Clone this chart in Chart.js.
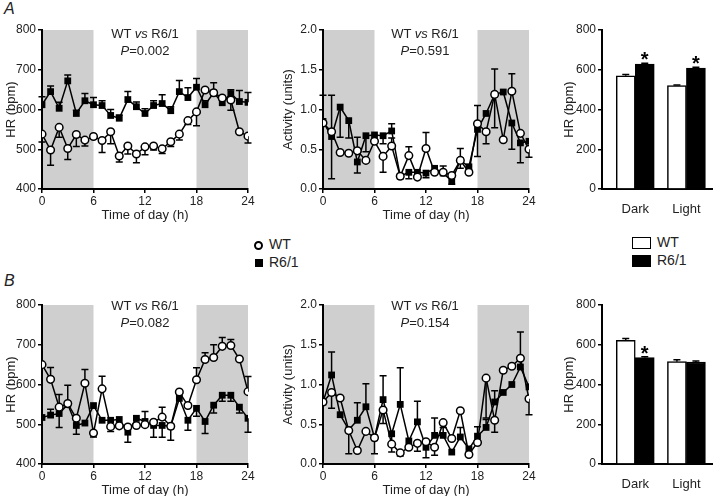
<!DOCTYPE html>
<html>
<head>
<meta charset="utf-8">
<script src="https://cdn.jsdelivr.net/npm/chart.js@4"></script>
<style>
  body { margin: 0; width: 720px; height: 496px; overflow: hidden; background: #fff; position: relative;
         font-family: 'Liberation Sans', Arial, sans-serif; color: #222; }
  canvas { position: absolute; }
  .note { position: absolute; width: 110px; font-size: 13px; line-height: 17px; text-align: center; }
  .tag { position: absolute; font-size: 16px; font-style: italic; }
  .leg { position: absolute; font-size: 14px; line-height: 18px; }
  .leg span { display: inline-block; vertical-align: middle; margin-right: 6px; box-sizing: border-box; }
</style>
</head>
<body>
<div class="tag" style="left:4px;top:0px">A</div>
<div class="tag" style="left:4px;top:272px">B</div>

<canvas id="hrA" width="262" height="230" style="left:0;top:0"></canvas>
<canvas id="actA" width="273" height="230" style="left:270px;top:0"></canvas>
<canvas id="barA" width="165" height="230" style="left:555px;top:0"></canvas>
<canvas id="hrB" width="262" height="230" style="left:0;top:275px"></canvas>
<canvas id="actB" width="273" height="230" style="left:270px;top:275px"></canvas>
<canvas id="barB" width="165" height="230" style="left:555px;top:275px"></canvas>

<div class="note" style="left:90px;top:25px">WT <i>vs</i> R6/1<br><i>P</i>=0.002</div>
<div class="note" style="left:370px;top:25px">WT <i>vs</i> R6/1<br><i>P</i>=0.591</div>
<div class="note" style="left:90px;top:297px">WT <i>vs</i> R6/1<br><i>P</i>=0.082</div>
<div class="note" style="left:370px;top:297px">WT <i>vs</i> R6/1<br><i>P</i>=0.154</div>

<div class="leg" style="left:254px;top:235px">
  <div><span style="width:9px;height:9px;border:2px solid #000;border-radius:50%"></span>WT</div>
  <div><span style="width:8px;height:8px;background:#000;margin-left:1px"></span>R6/1</div>
</div>
<div class="leg" style="left:632px;top:233px">
  <div><span style="width:19px;height:12px;border:1.5px solid #000"></span>WT</div>
  <div><span style="width:19px;height:12px;background:#000"></span>R6/1</div>
</div>

<script>
// time axis
const hours = [0, 1, 2, 3, 4, 5, 6, 7, 8, 9, 10, 11, 12, 13, 14, 15, 16, 17, 18, 19, 20, 21, 22, 23, 24];
const darkPeriods = [[0, 6], [18, 24]];
const groups = ['WT', 'R6/1'];
const barCats = ['Dark', 'Light'];

// A: heart rate (bpm), error bars signed (+ up, - down)
const hrA_wt = [538, 498, 555, 502, 537, 523, 532, 522, 544, 483, 508, 488, 506, 508, 501, 519, 538, 572, 594, 649, 642, 629, 624, 544, 533];
const hrA_wtErr = [-20, -38, -25, -28, -30, -15, -5, -30, -30, -15, -20, -22, -20, -10, -12, -12, -15, -10, -35, -5, -5, -5, -26, 0, -17];
const hrA_r6 = [612, 645, 603, 672, 590, 622, 612, 610, 585, 578, 625, 607, 590, 610, 615, 597, 645, 630, 656, 612, 642, 617, 640, 620, 618];
const hrA_r6Err = [20, 14, 15, 15, 8, 18, 18, 12, 15, 8, 20, 12, 12, 12, 22, 10, 28, 25, 22, 10, 25, 15, 10, 28, 25];

// A: activity (units)
const actA_wt = [0.83, 0.72, 0.46, 0.45, 0.48, 0.36, 0.60, 0.41, 0.54, 0.16, 0.42, 0.15, 0.51, 0.21, 0.21, 0.17, 0.36, 0.21, 0.82, 0.72, 1.19, 0.62, 1.23, 0.70, 0.50];
const actA_wtErr = [0, 0.46, 0, 0, 0.17, 0, 0, -0.2, 0.1, 0, 0.11, 0, 0.2, 0, 0, 0, 0.15, 0, 0.23, -0.15, -0.42, 0, 0.22, 0, -0.1];
const actA_r6 = [0.85, 0.66, 1.03, 0.86, 0.34, 0.67, 0.68, 0.67, 0.73, 0.16, 0.21, 0.21, 0.20, 0.26, 0.20, 0.10, 0.36, 0.28, 0.75, 0.95, 1.19, 1.22, 0.83, 0.58, 0.60];
const actA_r6Err = [0.33, -0.53, -0.38, -0.22, -0.14, -0.2, 0, -0.1, 0.09, 0, -0.08, 0, -0.06, 0, 0.09, -0.04, -0.1, 0, -0.34, 0, 0.32, 0, -0.33, -0.25, 0];

// A: mean HR dark / light
const barA_wt = [570, 520];
const barA_wtErr = [6, 3];
const barA_r6 = [628, 608];
const barA_r6Err = [5, 5];
const barA_sig = [true, true];

// B: heart rate
const hrB_wt = [650, 613, 543, 552, 515, 603, 478, 589, 494, 496, 493, 497, 499, 505, 518, 495, 581, 547, 612, 663, 668, 696, 698, 664, 582];
const hrB_wtErr = [0, 30, 32, 0, 0, 35, -10, 32, -12, 0, 0, 0, 0, 0, 25, 0, 0, 0, 30, 17, 32, 22, 15, 0, 38];
const hrB_r6 = [517, 523, 527, 550, 497, 503, 547, 510, 510, 512, 480, 515, 507, 497, 497, 495, 565, 510, 540, 507, 548, 573, 573, 543, 515];
const hrB_r6Err = [0, 15, -35, 48, -22, 0, 0, 0, 0, 0, -25, 0, 25, -30, -30, -35, 0, -25, -20, -30, -20, -15, -15, -15, -35];

// B: activity
const actB_wt = [0.78, 0.90, 0.83, 0.42, 0.17, 0.41, 0.33, 0.68, 0.25, 0.14, 0.21, 0.26, 0.28, 0.21, 0.52, 0.32, 0.67, 0.12, 0.27, 1.08, 0.55, 1.18, 1.23, 1.33, 0.82];
const actB_wtErr = [0, -0.2, 0, 0, 0, 0, 0, -0.17, -0.1, -0.04, 0, -0.1, 0, -0.1, 0, 0, 0, 0, 0, -0.5, -0.15, 0, 0, 0, -0.2];
const actB_r6 = [0.78, 1.12, 0.62, 0.43, 0.55, 0.72, 0.33, 0.81, 0.38, 0.75, 0.29, 0.53, 0.21, 0.36, 0.36, 0.15, 0.34, 0.19, 0.35, 0.46, 0.78, 0.90, 1.00, 1.22, 0.97];
const actB_r6Err = [0, 0.29, 0, -0.3, 0.22, 0.29, -0.2, 0.3, -0.13, 0.46, 0, 0.26, -0.13, 0.22, 0.1, 0, 0.12, 0, 0.12, 0.1, 0.14, 0, 0, 0.44, 0];

// B: mean HR dark / light
const barB_wt = [622, 515];
const barB_wtErr = [10, 10];
const barB_r6 = [535, 513];
const barB_r6Err = [5, 5];
const barB_sig = [true, false];

Chart.defaults.font.family = "'Liberation Sans', Arial, sans-serif";
Chart.defaults.color = '#222';

// shading, error bars and significance stars
const deco = {
  id: 'deco',
  beforeDraw(chart) {
    const o = chart.options.plugins.deco || {};
    if (!o.shade) return;
    const { ctx, chartArea: a, scales } = chart;
    ctx.save();
    ctx.fillStyle = '#cfcfcf';
    o.shade.forEach(([s, e]) => {
      const x1 = scales.x.getPixelForValue(s), x2 = scales.x.getPixelForValue(e);
      ctx.fillRect(x1, a.top, x2 - x1, a.bottom - a.top);
    });
    ctx.restore();
  },
  beforeDatasetsDraw(chart) {
    const { ctx, scales } = chart;
    ctx.save();
    ctx.strokeStyle = '#000';
    ctx.lineWidth = 1.5;
    chart.data.datasets.forEach((ds, i) => {
      if (!ds.err) return;
      chart.getDatasetMeta(i).data.forEach((el, j) => {
        const e = ds.err[j];
        if (!e) return;
        const v = ds.data[j].y;
        const y0 = scales.y.getPixelForValue(v), y1 = scales.y.getPixelForValue(v + e);
        ctx.beginPath();
        ctx.moveTo(el.x, y0); ctx.lineTo(el.x, y1);
        ctx.moveTo(el.x - 3.5, y1); ctx.lineTo(el.x + 3.5, y1);
        ctx.stroke();
      });
    });
    ctx.restore();
  },
  afterDatasetsDraw(chart) {
    const { ctx, scales } = chart;
    chart.data.datasets.forEach((ds, i) => {
      if (!ds.sig) return;
      chart.getDatasetMeta(i).data.forEach((el, j) => {
        if (!ds.sig[j]) return;
        const y = scales.y.getPixelForValue(ds.data[j].y + ds.err[j]);
        ctx.save();
        ctx.fillStyle = '#000';
        ctx.font = "bold 20px 'Liberation Sans', Arial";
        ctx.textAlign = 'center';
        ctx.textBaseline = 'alphabetic';
        ctx.fillText('*', el.x, y + 3);
        ctx.restore();
      });
    });
  }
};

function yAxis(min, max, step, title, width, fmt) {
  return {
    type: 'linear', min: min, max: max,
    ticks: { stepSize: step, color: '#222', font: { size: 12 }, padding: 2, callback: fmt || (v => v) },
    grid: { drawOnChartArea: false, tickLength: 4, color: '#000', lineWidth: 1.5 },
    border: { color: '#000', width: 2 },
    title: { display: true, text: title, color: '#222', font: { size: 13 }, padding: 0 },
    afterFit: s => { s.width = width; }
  };
}

function xTime() {
  return {
    type: 'linear', min: 0, max: 24,
    ticks: { stepSize: 6, color: '#222', font: { size: 12 }, padding: 1 },
    grid: { drawOnChartArea: false, tickLength: 4, color: '#000', lineWidth: 1.5 },
    border: { color: '#000', width: 2 },
    title: { display: true, text: 'Time of day (h)', color: '#222', font: { size: 13 }, padding: 0 },
    afterFit: s => { s.height = 34; }
  };
}

function pts(vals) {
  return vals.map((v, i) => ({ x: hours[i], y: v }));
}

function lineChart(id, wt, wtErr, r6, r6Err, yOpts, padLeft) {
  new Chart(document.getElementById(id), {
    type: 'line',
    data: {
      datasets: [
        { label: groups[0], data: pts(wt), err: wtErr, borderColor: '#000', borderWidth: 1.5,
          pointStyle: 'circle', pointRadius: 3.8, pointBackgroundColor: '#fff',
          pointBorderColor: '#000', pointBorderWidth: 1.5, tension: 0 },
        { label: groups[1], data: pts(r6), err: r6Err, borderColor: '#000', borderWidth: 1.5,
          pointStyle: 'rect', pointRadius: 4.8, pointBackgroundColor: '#000',
          pointBorderColor: '#000', pointBorderWidth: 0, tension: 0 }
      ]
    },
    options: {
      responsive: false, animation: false, events: [],
      layout: { padding: { left: padLeft, top: 30, right: 14, bottom: 7 } },
      scales: { x: xTime(), y: yOpts },
      plugins: { legend: { display: false }, tooltip: { enabled: false }, deco: { shade: darkPeriods } }
    },
    plugins: [deco]
  });
}

function barChart(id, wt, wtErr, r6, r6Err, sig) {
  new Chart(document.getElementById(id), {
    type: 'bar',
    data: {
      datasets: [
        { label: groups[0], data: wt.map((v, i) => ({ x: i, y: v })), err: wtErr,
          backgroundColor: '#fff', borderColor: '#000', borderWidth: 1.5, barThickness: 19 },
        { label: groups[1], data: r6.map((v, i) => ({ x: i, y: v })), err: r6Err, sig: sig,
          backgroundColor: '#000', borderColor: '#000', borderWidth: 1.5, barThickness: 19 }
      ]
    },
    options: {
      responsive: false, animation: false, events: [],
      layout: { padding: { left: 7, top: 30, right: 8, bottom: 7 } },
      scales: {
        x: {
          type: 'linear', min: -0.65, max: 1.5, offset: false,
          afterBuildTicks: s => { s.ticks = barCats.map((c, i) => ({ value: i })); },
          ticks: { color: '#222', font: { size: 13 }, padding: 5, callback: v => barCats[v] },
          grid: { display: false, offset: false },
          border: { color: '#000', width: 2 },
          afterFit: s => { s.height = 34; }
        },
        y: yAxis(0, 800, 200, 'HR (bpm)', 40)
      },
      plugins: { legend: { display: false }, tooltip: { enabled: false } }
    },
    plugins: [deco]
  });
}

lineChart('hrA', hrA_wt, hrA_wtErr, hrA_r6, hrA_r6Err, yAxis(400, 800, 100, 'HR (bpm)', 38), 4);
lineChart('actA', actA_wt, actA_wtErr, actA_r6, actA_r6Err, yAxis(0, 2, 0.5, 'Activity (units)', 42, v => v.toFixed(1)), 11);
barChart('barA', barA_wt, barA_wtErr, barA_r6, barA_r6Err, barA_sig);
lineChart('hrB', hrB_wt, hrB_wtErr, hrB_r6, hrB_r6Err, yAxis(400, 800, 100, 'HR (bpm)', 38), 4);
lineChart('actB', actB_wt, actB_wtErr, actB_r6, actB_r6Err, yAxis(0, 2, 0.5, 'Activity (units)', 42, v => v.toFixed(1)), 11);
barChart('barB', barB_wt, barB_wtErr, barB_r6, barB_r6Err, barB_sig);
</script>
</body>
</html>
